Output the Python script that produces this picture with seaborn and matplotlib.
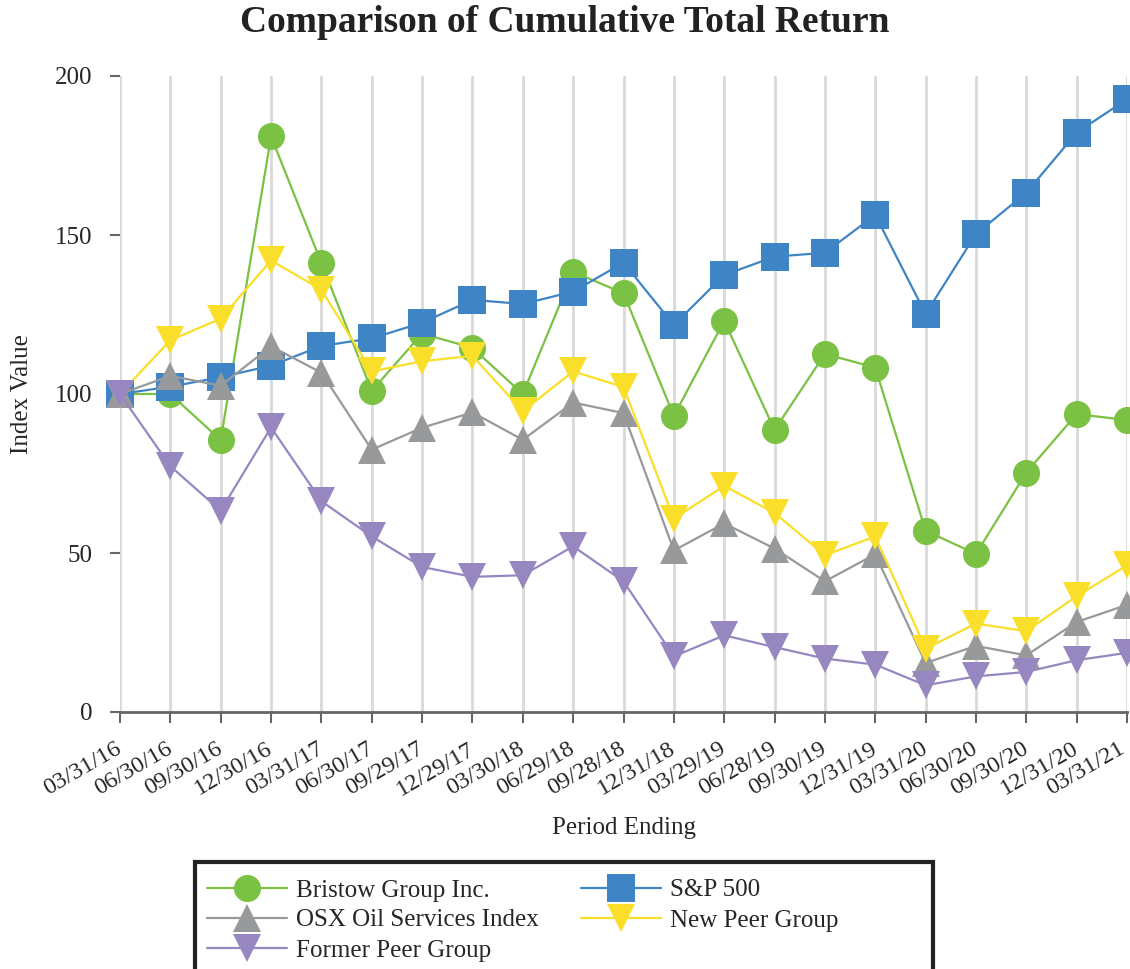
import numpy as np
import pandas as pd
import seaborn as sns
import matplotlib.pyplot as plt
from matplotlib.patches import Rectangle
from matplotlib.transforms import ScaledTranslation

# period labels
periods = ['03/31/16', '06/30/16', '09/30/16', '12/30/16', '03/31/17', '06/30/17',
           '09/29/17', '12/29/17', '03/30/18', '06/29/18', '09/28/18', '12/31/18',
           '03/29/19', '06/28/19', '09/30/19', '12/31/19', '03/31/20', '06/30/20',
           '09/30/20', '12/31/20', '03/31/21']

bristow = [100, 100, 85.5, 181, 141.2, 101, 119, 114.5, 100, 138.4, 131.7, 93.1,
           123, 88.7, 112.6, 108.3, 57, 49.7, 75.3, 93.7, 91.8]
sp500 = [100, 102.3, 105.3, 108.9, 115.1, 117.5, 122.4, 129.6, 128.3, 132.2, 141.3,
         121.7, 137.4, 143.2, 144.4, 156.3, 125.2, 150.3, 163.3, 182.2, 192.7]
osx = [100, 105.7, 102.6, 115, 106.7, 82.5, 89.4, 94.2, 85.6, 97.3, 94, 50.8,
       59.3, 51.4, 41.1, 49.6, 15.4, 20.8, 17.8, 28.3, 33.7]
new_peer = [100, 116.9, 123.7, 142, 132.8, 107.1, 110.3, 112, 94.6, 107.1, 102.2,
            60.8, 71.1, 62.6, 49.3, 55.2, 19.9, 27.8, 25.4, 36.4, 46.1]
former_peer = [100, 77.3, 63.3, 89.5, 66.3, 55.2, 45.6, 42.5, 43, 52.1, 41.1, 17.5,
               24.1, 20.4, 16.8, 14.9, 8.4, 11.2, 12.6, 16.3, 18.6]

# name, values, colour, marker  (drawn in this order, last on top)
series = [
    ('Bristow Group Inc.', bristow, '#7BC143', 'o'),
    ('S&P 500', sp500, '#3F85C6', 's'),
    ('OSX Oil Services Index', osx, '#98999B', '^'),
    ('New Peer Group', new_peer, '#F9DE2A', 'v'),
    ('Former Peer Group', former_peer, '#9787C0', 'v'),
]
legend_order = ['Bristow Group Inc.', 'OSX Oil Services Index', 'Former Peer Group',
                'S&P 500', 'New Peer Group']

sns.set_style('white')
plt.rcParams['font.family'] = ['Liberation Serif', 'DejaVu Serif']

fig = plt.figure(figsize=(11.3, 9.69), dpi=100)
ax = fig.add_axes([120 / 1130, 1 - 712 / 969, (1127 - 120) / 1130, (712 - 76) / 969])

x = np.arange(len(periods))
for i, (name, vals, col, mk) in enumerate(series):
    df = pd.DataFrame({'x': x, 'y': vals})
    sns.lineplot(data=df, x='x', y='y', ax=ax, color=col, marker=mk, markersize=19.5,
                 markeredgewidth=0, linewidth=1.6, label=name, clip_on=False,
                 zorder=3 + i)

ax.set_xlim(0, 20)
ax.set_ylim(0, 200)
ax.set_yticks([0, 50, 100, 150, 200])
ax.set_xticks(x)
ax.set_xticklabels(periods, rotation=30, ha='right', rotation_mode='anchor')
ax.tick_params(axis='x', bottom=True, length=8, width=1.5, color='#666666',
               labelsize=17.5, pad=11)
ax.tick_params(axis='y', left=True, length=7, width=1.5, color='#666666',
               labelsize=18, pad=13)
xlabels = ax.get_xticklabels()
for k, lbl in enumerate(xlabels):
    dx = -5 if k < len(xlabels) - 1 else -9
    lbl.set_transform(lbl.get_transform() + ScaledTranslation(dx / 100, 0, fig.dpi_scale_trans))
ax.grid(axis='x', color='#D9D9D9', linewidth=2)
ax.grid(axis='y', visible=False)
for side in ['left', 'right', 'top']:
    ax.spines[side].set_visible(False)
ax.spines['bottom'].set_color('#666666')
ax.spines['bottom'].set_linewidth(2)

ax.set_xlabel('Period Ending', fontsize=18, labelpad=12)
ax.set_ylabel('Index Value', fontsize=18, labelpad=16)
fig.text(0.5, 1 - 23 / 969, 'Comparison of Cumulative Total Return', fontsize=27,
         fontweight='bold', ha='center', va='center', color='#222222')

ax.get_legend().remove()
h, l = ax.get_legend_handles_labels()
hmap = dict(zip(l, h))
leg = fig.legend([hmap[n] for n in legend_order], legend_order, ncol=2, loc='upper left',
                 bbox_to_anchor=(207 / 1130, 1 - 879 / 969), fontsize=18,
                 frameon=False, borderaxespad=0, borderpad=0,
                 handlelength=3.2, columnspacing=1.7, labelspacing=0.3,
                 handletextpad=0.35)
fig.add_artist(Rectangle((195 / 1130, -0.05), (933 - 195) / 1130, 0.05 + (969 - 862) / 969,
                         transform=fig.transFigure, fill=False, edgecolor='#222222',
                         linewidth=3, clip_on=False))

fig.savefig('out.png', dpi=100)
